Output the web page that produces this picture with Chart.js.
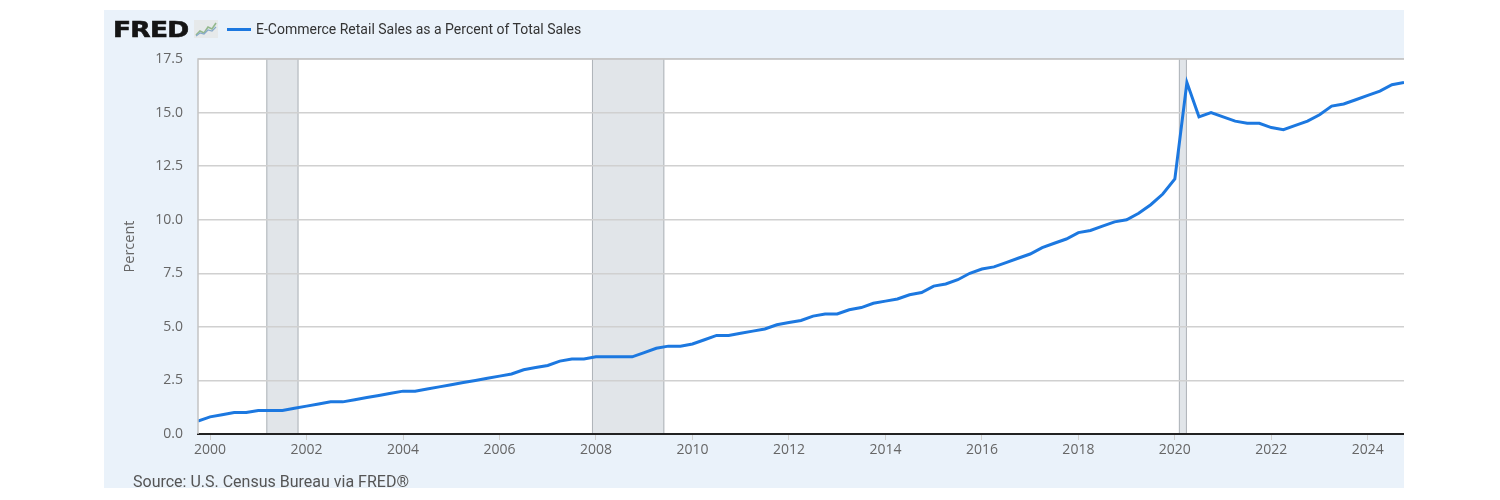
<!DOCTYPE html>
<html>
<head>
<meta charset="utf-8">
<script src="https://cdn.jsdelivr.net/npm/chart.js@4/dist/chart.umd.min.js"></script>
<style>
  body { margin: 0; background: #fff; width: 1500px; height: 500px; position: relative; overflow: hidden; }
  #frame { position: absolute; left: 104px; top: 10px; width: 1300px; height: 478px; background: #eaf2fa; }
  #frame canvas { position: absolute; left: 0; top: 0; }
  #logo { position: absolute; left: 9px; top: 7px; height: 26px; font: bold 22px "DejaVu Sans", sans-serif; line-height: 26px; color: #151515; transform: scaleX(1.2); transform-origin: left top; letter-spacing: -0.6px; -webkit-text-stroke: 0.6px #151515; }
  #icon { position: absolute; left: 90px; top: 10px; }
  #legend { position: absolute; left: 123px; top: 11px; font: 14px Roboto, sans-serif; color: #333; white-space: nowrap; }
  #legend span.sw { display: inline-block; width: 24px; height: 3px; background: #1c78e0; vertical-align: middle; margin-right: 5px; position: relative; top: -1px; }
  #source { position: absolute; left: 29px; top: 462px; font: 16px Roboto, sans-serif; color: #555; white-space: nowrap; }
</style>
</head>
<body>
<div id="frame">
  <canvas id="grafik" width="1300" height="478"></canvas>
  <div id="logo">FRED</div>
  <svg id="icon" width="24" height="18" viewBox="0 0 24 18">
    <rect x="0" y="0" width="24" height="18" fill="#e6e9ea"/>
    <polyline points="2,15 6,11 10,13 14,7 18,9 22,3" fill="none" stroke="#93b88d" stroke-width="1.6"/>
    <polyline points="2,16 6,13 10,14 14,10 18,11 22,7" fill="none" stroke="#86a9c9" stroke-width="1.2"/>
  </svg>
  <div id="legend"><span class="sw"></span>E-Commerce Retail Sales as a Percent of Total Sales</div>
  <div id="source">Source: U.S. Census Bureau via FRED®</div>
</div>
<script>
// quarterly observations, 1999 Q4 .. 2024 Q4
const quarters = [
  "1999-10",
  "2000-01", "2000-04", "2000-07", "2000-10",
  "2001-01", "2001-04", "2001-07", "2001-10",
  "2002-01", "2002-04", "2002-07", "2002-10",
  "2003-01", "2003-04", "2003-07", "2003-10",
  "2004-01", "2004-04", "2004-07", "2004-10",
  "2005-01", "2005-04", "2005-07", "2005-10",
  "2006-01", "2006-04", "2006-07", "2006-10",
  "2007-01", "2007-04", "2007-07", "2007-10",
  "2008-01", "2008-04", "2008-07", "2008-10",
  "2009-01", "2009-04", "2009-07", "2009-10",
  "2010-01", "2010-04", "2010-07", "2010-10",
  "2011-01", "2011-04", "2011-07", "2011-10",
  "2012-01", "2012-04", "2012-07", "2012-10",
  "2013-01", "2013-04", "2013-07", "2013-10",
  "2014-01", "2014-04", "2014-07", "2014-10",
  "2015-01", "2015-04", "2015-07", "2015-10",
  "2016-01", "2016-04", "2016-07", "2016-10",
  "2017-01", "2017-04", "2017-07", "2017-10",
  "2018-01", "2018-04", "2018-07", "2018-10",
  "2019-01", "2019-04", "2019-07", "2019-10",
  "2020-01", "2020-04", "2020-07", "2020-10",
  "2021-01", "2021-04", "2021-07", "2021-10",
  "2022-01", "2022-04", "2022-07", "2022-10",
  "2023-01", "2023-04", "2023-07", "2023-10",
  "2024-01", "2024-04", "2024-07", "2024-10"
];

const ecomPct = [
  0.6,
  0.8, 0.9, 1.0, 1.0,
  1.1, 1.1, 1.1, 1.2,
  1.3, 1.4, 1.5, 1.5,
  1.6, 1.7, 1.8, 1.9,
  2.0, 2.0, 2.1, 2.2,
  2.3, 2.4, 2.5, 2.6,
  2.7, 2.8, 3.0, 3.1,
  3.2, 3.4, 3.5, 3.5,
  3.6, 3.6, 3.6, 3.6,
  3.8, 4.0, 4.1, 4.1,
  4.2, 4.4, 4.6, 4.6,
  4.7, 4.8, 4.9, 5.1,
  5.2, 5.3, 5.5, 5.6,
  5.6, 5.8, 5.9, 6.1,
  6.2, 6.3, 6.5, 6.6,
  6.9, 7.0, 7.2, 7.5,
  7.7, 7.8, 8.0, 8.2,
  8.4, 8.7, 8.9, 9.1,
  9.4, 9.5, 9.7, 9.9,
  10.0, 10.3, 10.7, 11.2,
  11.9, 16.4, 14.8, 15.0,
  14.8, 14.6, 14.5, 14.5,
  14.3, 14.2, 14.4, 14.6,
  14.9, 15.3, 15.4, 15.6,
  15.8, 16.0, 16.3, 16.4
];

const recessionStart = ["2001-03", "2007-12", "2020-02"];
const recessionEnd = ["2001-11", "2009-06", "2020-04"];

const yearTicks = [2000, 2002, 2004, 2006, 2008, 2010, 2012, 2014, 2016, 2018, 2020, 2022, 2024];
const yTicks = [0, 2.5, 5, 7.5, 10, 12.5, 15, 17.5];

function toYear(s) {
  const [y, m] = s.split("-").map(Number);
  return y + (m - 1) / 12;
}

const points = quarters.map((q, i) => ({ x: toYear(q), y: ecomPct[i] }));

// white plot area + recession bars + left/top border
const plotBack = {
  id: "plotBack",
  beforeDraw(chart) {
    const { ctx, chartArea: a, scales } = chart;
    ctx.save();
    ctx.fillStyle = "#ffffff";
    ctx.fillRect(a.left, a.top, a.right - a.left, a.bottom - a.top);
    recessionStart.forEach((s, i) => {
      const x1 = scales.x.getPixelForValue(toYear(s));
      const x2 = scales.x.getPixelForValue(toYear(recessionEnd[i]));
      ctx.fillStyle = "#e1e5e9";
      ctx.fillRect(x1, a.top, x2 - x1, a.bottom - a.top);
      ctx.strokeStyle = "#aeb3b8";
      ctx.lineWidth = 1;
      ctx.beginPath();
      ctx.moveTo(x1 + 0.5, a.top);
      ctx.lineTo(x1 + 0.5, a.bottom);
      ctx.moveTo(x2 - 0.5, a.top);
      ctx.lineTo(x2 - 0.5, a.bottom);
      ctx.stroke();
    });
    ctx.restore();
  },
  afterDraw(chart) {
    const { ctx, chartArea: a } = chart;
    ctx.save();
    ctx.strokeStyle = "#c4c4c4";
    ctx.lineWidth = 1.5;
    ctx.beginPath();
    ctx.moveTo(a.left, a.bottom);
    ctx.lineTo(a.left, a.top);
    ctx.lineTo(a.right, a.top);
    ctx.stroke();
    ctx.restore();
  },
};

new Chart(document.getElementById("grafik"), {
  type: "line",
  data: {
    datasets: [
      {
        label: "E-Commerce Retail Sales as a Percent of Total Sales",
        data: points,
        borderColor: "#1c78e0",
        borderWidth: 3,
        pointRadius: 0,
        tension: 0,
        fill: false,
      },
    ],
  },
  options: {
    responsive: false,
    animation: false,
    devicePixelRatio: 1,
    layout: { padding: { top: 49, right: 0, bottom: 24, left: 0 } },
    plugins: { legend: { display: false }, tooltip: { enabled: false } },
    scales: {
      x: {
        type: "linear",
        min: toYear(quarters[0]),
        max: toYear(quarters[quarters.length - 1]),
        afterBuildTicks: (scale) => {
          scale.ticks = yearTicks.map((v) => ({ value: v }));
        },
        afterFit: (scale) => {
          scale.height = 30;
        },
        ticks: {
          autoSkip: false,
          maxRotation: 0,
          padding: 2,
          color: "#666",
          font: { family: "'Open Sans'", size: 14 },
          callback: (v) => String(v),
        },
        grid: { drawOnChartArea: false, drawTicks: true, tickLength: 6, color: "#cfcfcf", lineWidth: 1 },
        border: { display: true, color: "#222", width: 2 },
      },
      y: {
        min: 0,
        max: 17.5,
        afterBuildTicks: (scale) => {
          scale.ticks = yTicks.map((v) => ({ value: v }));
        },
        afterFit: (scale) => {
          scale.width = 94;
        },
        ticks: {
          padding: 15,
          color: "#666",
          font: { family: "'Open Sans'", size: 14 },
          callback: (v) => v.toFixed(1),
        },
        grid: { drawTicks: false, color: "#d0d0d0", lineWidth: 1.5 },
        border: { display: false },
        title: {
          display: true,
          text: "Percent",
          color: "#666",
          font: { family: "'Open Sans'", size: 14.5 },
          padding: { top: 17, bottom: 0 },
        },
      },
    },
  },
  plugins: [plotBack],
});
</script>
</body>
</html>
